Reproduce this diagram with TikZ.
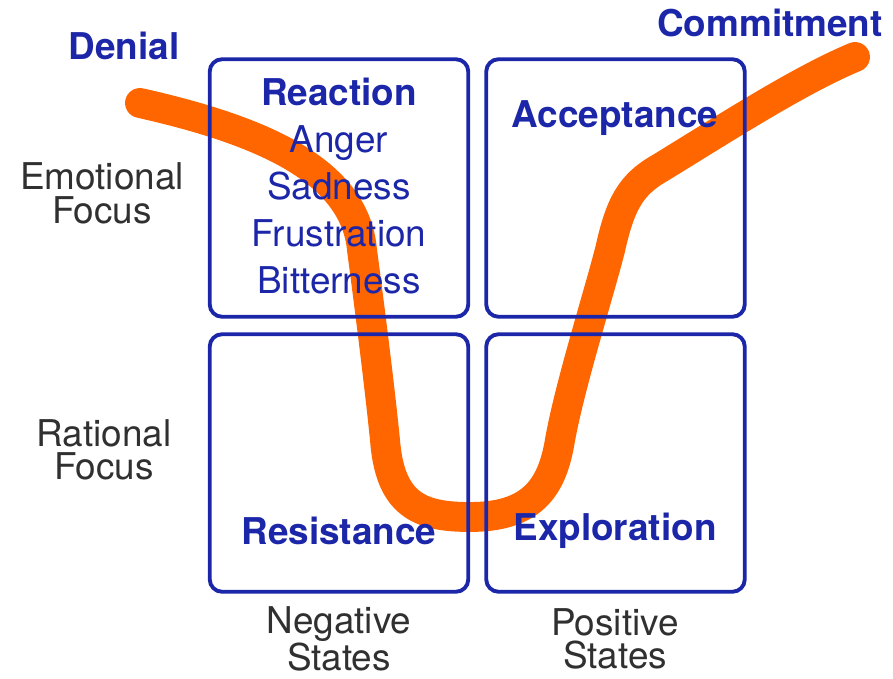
\documentclass[tikz,border=0pt]{standalone}
\usepackage{fontspec}
\setmainfont{TeX Gyre Heros}
\usetikzlibrary{positioning}
\definecolor{plava}{HTML}{1C26A8}
\definecolor{narandzasta}{HTML}{FF6600}
\definecolor{siva}{HTML}{303030}

\begin{document}
\begin{tikzpicture}[
  quad/.style={rectangle, rounded corners=7pt, draw=plava, line width=2.2pt,
               minimum width=5.17cm, minimum height=5.15cm},
  head/.style={anchor=base, text=plava, font=\fontsize{21}{20}\selectfont\bfseries},
  item/.style={anchor=base, text=plava, font=\fontsize{21}{20}\selectfont},
  side/.style={align=center, text=siva, font=\fontsize{21}{19}\selectfont},
  curve/.style={draw=narandzasta, line width=17pt, line cap=round, line join=round}
]
\useasboundingbox (0,0) rectangle (17.86,13.56);

% the change curve sits behind the boxes
\draw[curve] (2.80,11.50)
  .. controls (5.20,10.96) and (7.10,10.16) .. (7.24,8.56)
  .. controls (7.40,7.36) and (7.60,5.76) .. (7.70,4.76)
  .. controls (7.80,3.46) and (8.40,3.22) .. (9.40,3.22)
  .. controls (10.60,3.22) and (11.04,3.76) .. (11.20,4.76)
  .. controls (11.40,5.86) and (11.94,7.56) .. (12.20,8.56)
  .. controls (12.40,9.46) and (12.60,9.86) .. (13.20,10.20)
  .. controls (14.60,11.06) and (16.00,11.96) .. (17.10,12.42);

% quadrants
\node[quad] (q1) at (6.78,9.80) {};
\node[quad] (q2) at (12.31,9.80) {};
\node[quad] (q3) at (6.78,4.30) {};
\node[quad] (q4) at (12.31,4.30) {};

% top left
\node[head] (reaction) at (6.78,11.44) {Reaction};
\node[item] (anger) at (6.78,10.50) {Anger};
\node[item] (sadness) at (6.78,9.56) {Sadness};
\node[item] (frustration) at (6.78,8.62) {Frustration};
\node[item] (bitterness) at (6.78,7.68) {Bitterness};

\node[head] (acceptance) at (12.30,11.00) {Acceptance};
\node[head] (resistance) at (6.78,2.66) {Resistance};
\node[head] (exploration) at (12.30,2.74) {Exploration};

% ends of the curve
\node[head] (denial) at (2.48,12.36) {Denial};
\node[head] (commitment) at (15.40,12.82) {Commitment};

% axis labels
\node[side] (emotional) at (2.04,9.69) {Emotional\\Focus};
\node[side] (rational) at (2.08,4.56) {Rational\\Focus};
\node[side] (negative) at (6.78,0.78) {Negative\\States};
\node[side] (positive) at (12.30,0.78) {Positive\\States};
\end{tikzpicture}
\end{document}
